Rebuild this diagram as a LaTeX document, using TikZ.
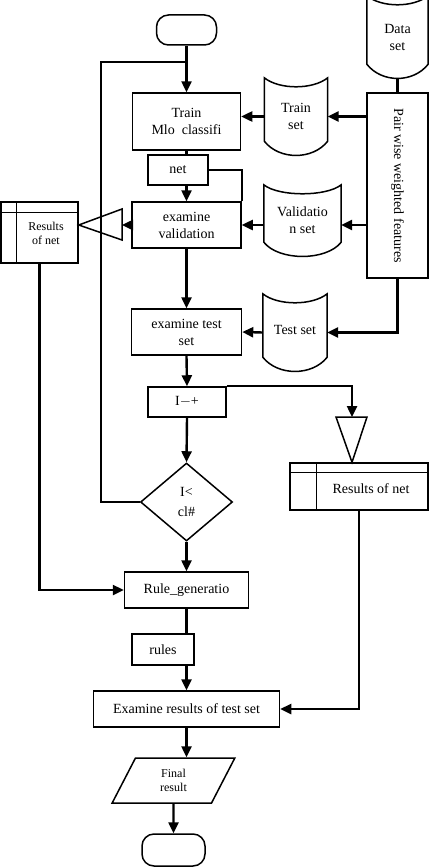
\documentclass[tikz,border=0pt]{standalone}
\usepackage{fontspec}
\setmainfont{Liberation Serif}
\usepackage{graphicx}
\usetikzlibrary{positioning,arrows.meta,calc,shapes.geometric}

\begin{document}
\begin{tikzpicture}[x=1pt,y=-1pt,
box/.style={draw,line width=1.5pt,align=center,inner sep=0pt,font=\fontsize{14}{17}\selectfont},
db/.style={align=center,inner sep=0pt,font=\fontsize{14}{17}\selectfont},
small/.style={font=\fontsize{12}{14}\selectfont},
ln/.style={line width=2.4pt},
arr/.style={-{Triangle[length=11pt,width=10pt]},line width=2.4pt}]
\useasboundingbox (0,0) rectangle (430,867);
\node[box,rounded corners=12pt,minimum width=60pt,minimum height=30pt] (st) at (186.5,30) {};
\node[box,minimum width=108pt,minimum height=57pt] (tr) at (186.5,121.5) {Train\\Mlo\ \ classifi};
\node[box,minimum width=60pt,minimum height=30pt] (net) at (178,170) {net};
\node[box,minimum width=109pt,minimum height=46pt] (exv) at (186.5,225) {examine\\validation};
\node[box,minimum width=110pt,minimum height=46pt] (exs) at (186.5,332) {examine test\\set};
\node[box,minimum width=78pt,minimum height=30pt] (inc) at (187,402) {I$-$+};
\node[box,diamond,aspect=1.18,minimum width=92pt,minimum height=78pt,font=\fontsize{14}{20}\selectfont] (dia) at (186.5,502) {I<\\cl\#};
\node[box,minimum width=124pt,minimum height=36pt] (rg) at (186.5,590) {Rule\_generatio};
\node[box,minimum width=62pt,minimum height=31pt] (rul) at (163,649.5) {rules};
\node[box,minimum width=186pt,minimum height=36pt] (exr) at (186.5,709) {Examine results of test set};
\node[box,small,trapezium,trapezium left angle=70,trapezium right angle=110,trapezium stretches=true,
minimum width=123pt,minimum height=45pt] (fin) at (173.5,780.5) {Final\\result};
\node[box,rounded corners=12pt,minimum width=63pt,minimum height=32pt] (en) at (173.5,850) {};
\node[db,minimum width=61pt,minimum height=82pt] (das) at (397.5,37) {Data\\set};
\node[db,minimum width=63pt,minimum height=77pt] (trs) at (296,116.5) {Train\\set};
\node[db,minimum width=77pt,minimum height=71pt] (vas) at (302.5,220.5) {Validatio\\n set};
\node[db,minimum width=64pt,minimum height=77pt] (tes) at (295,332.5) {\raisebox{5pt}{Test set}};
\foreach \n in {das,trs,vas,tes}
\draw[line width=1.5pt] (\n.north west) .. controls ($(\n.north west)+(15,12)$) and ($(\n.north east)+(-15,12)$) .. (\n.north east)
-- ($(\n.south east)+(0,-14)$) .. controls ($(\n.south east)+(-15,5)$) and ($(\n.south west)+(15,5)$) .. ($(\n.south west)+(0,-14)$) -- cycle;
\node[box,minimum width=61pt,minimum height=185pt] (pw) at (397.5,185.5) {\rotatebox{-90}{Pair wise weighted features}};
\node[box,minimum width=77pt,minimum height=61pt] (res1) at (39.5,232.5) {};
\node[db,small] (res1t) at (46,233) {Results\\of net};
\draw[line width=1.5pt] ($(res1.north west)+(16,0)$) -- ($(res1.south west)+(16,0)$);
\draw[line width=1.5pt] ($(res1.north west)+(0,11)$) -- ($(res1.north east)+(0,11)$);
\node[box,minimum width=138pt,minimum height=47pt] (res2) at (359,486.5) {};
\node[db] (res2t) at (371,489) {Results of net};
\draw[line width=1.5pt] ($(res2.north west)+(27,0)$) -- ($(res2.south west)+(27,0)$);
\draw[line width=1.5pt] ($(res2.north west)+(0,10)$) -- ($(res2.north east)+(0,10)$);
\coordinate (t1) at (122,225);\coordinate (t2) at (352,417);\coordinate (lp) at (101,62);
\draw[line width=1.5pt] (res1.east |- t1) -- ($(t1)+(0,-16)$) -- ($(t1)+(0,15)$) -- cycle;
\draw[line width=1.5pt] ($(t2)+(-16,0)$) -- ($(t2)+(15,0)$) -- (t2 |- res2.north) -- cycle;
\draw[arr](st.south)--(tr.north);\draw[ln](dia.west)-|(lp)--(lp -| st.south);
\draw[ln](das.south)--(pw.north);
\draw[arr](pw.west |- trs.east)--(trs.east);\draw[arr](trs.west)--(tr.east |- trs.west);
\draw[ln](tr.south)--(tr.south |- net.north);\draw[arr](exv.north |- net.south)--(exv.north);
\draw[ln](net.east)-|(exv.north east);
\draw[arr](pw.west |- exv.east)--(vas.east |- exv.east);\draw[arr](vas.west |- exv.east)--(exv.east);
\draw[arr](exv.west)--(t1);
\draw[arr](exv.south)--(exs.north);
\draw[arr](pw.south)|-(tes.east);\draw[arr](tes.west)--(exs.east);
\draw[arr](exs.south)--(inc.north);\draw[arr](inc.north east)-|(t2);
\draw[arr](inc.south)--(dia.north);\draw[arr](dia.south)--(rg.north);
\draw[arr](res1.south)|-(rg.west);
\draw[ln](rg.south)--(rg.south |- rul.north);\draw[arr](rg.south |- rul.south)--(exr.north);
\draw[arr](res2.south)|-(exr.east);
\draw[arr](exr.south)--(exr.south |- fin.north);\draw[arr](fin.south)--(en.north);
\end{tikzpicture}
\end{document}
